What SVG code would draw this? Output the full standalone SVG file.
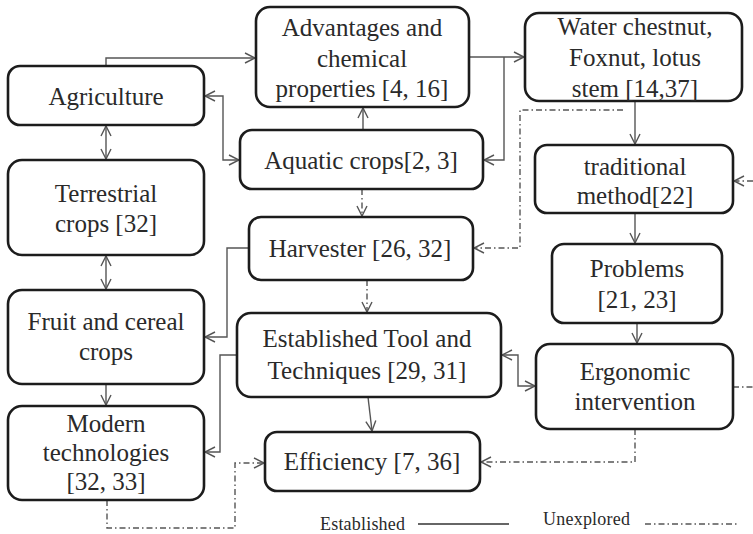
<svg xmlns="http://www.w3.org/2000/svg" width="753" height="534" viewBox="0 0 753 534">
<style>
.box{fill:#fff;stroke:#1c1c1c;stroke-width:2.6}
.t{font-family:'Liberation Serif',Tinos,'Times New Roman',Times,'DejaVu Serif',serif;font-size:25px;fill:#2a2a2a;text-anchor:middle}
.lg{font-family:'Liberation Serif',Tinos,'Times New Roman',Times,'DejaVu Serif',serif;font-size:18px;fill:#2a2a2a}
.c{fill:none;stroke:#555;stroke-width:1.4}
.d{fill:none;stroke:#555;stroke-width:1.4;stroke-dasharray:6,3,1.5,3}
</style>
<defs>
<marker id="a" markerUnits="userSpaceOnUse" markerWidth="12" markerHeight="12" viewBox="0 0 12 12" refX="11" refY="6" orient="auto-start-reverse">
<path d="M1,1 L11,6 L1,11" fill="none" stroke="#555" stroke-width="1.4"/>
</marker>
</defs>
<rect width="753" height="534" fill="#fff"/>
<g id="connectors">
<path class="c" d="M106,66 V58 H255" marker-end="url(#a)"/>
<path class="c" d="M205,96 H223 V160 H239" marker-start="url(#a)" marker-end="url(#a)"/>
<path class="c" d="M363,130 V108" marker-end="url(#a)"/>
<path class="c" d="M469,57 H524" marker-end="url(#a)"/>
<path class="c" d="M504,57 V160 H484" marker-end="url(#a)"/>
<path class="c" d="M635,101 V144" marker-end="url(#a)"/>
<path class="c" d="M635,213 V243" marker-end="url(#a)"/>
<path class="c" d="M637,323 V343" marker-end="url(#a)"/>
<path class="d" d="M753,181 H734" marker-end="url(#a)"/>
<path class="d" d="M733,387 H753"/>
<path class="d" d="M635,429 V462 H481" marker-end="url(#a)"/>
<path class="c" d="M502,355 H518 V386 H535" marker-start="url(#a)" marker-end="url(#a)"/>
<path class="c" d="M368,397 L372,431" marker-end="url(#a)"/>
<path class="d" d="M362,189 V216" marker-end="url(#a)"/>
<path class="d" d="M367,280 V312" marker-end="url(#a)"/>
<path class="d" d="M623,110 H520 V248 H474" marker-end="url(#a)"/>
<path class="c" d="M249,248 H227 V337 H205" marker-end="url(#a)"/>
<path class="c" d="M237,355 H220 V452 H205" marker-end="url(#a)"/>
<path class="c" d="M106,126 V159" marker-start="url(#a)" marker-end="url(#a)"/>
<path class="c" d="M106,256 V289" marker-start="url(#a)" marker-end="url(#a)"/>
<path class="c" d="M106,384 V405" marker-end="url(#a)"/>
<path class="d" d="M107,500 V528 H235 V463 H264" marker-end="url(#a)"/>
</g>
<g id="agriculture"><rect class="box" x="8" y="66" width="196" height="59" rx="12"/><text class="t" x="106" y="105">Agriculture</text></g>
<g id="advantages"><rect class="box" x="256" y="7" width="213" height="100" rx="14"/>
<text class="t" x="362" y="36">Advantages and</text><text class="t" x="362" y="67">chemical</text><text class="t" x="362" y="97">properties [4, 16]</text></g>
<g id="aquatic"><rect class="box" x="240" y="130" width="243" height="59" rx="12"/><text class="t" x="361" y="169">Aquatic crops[2, 3]</text></g>
<g id="water"><rect class="box" x="525" y="13" width="217" height="88" rx="14"/>
<text class="t" x="635" y="35">Water chestnut,</text><text class="t" x="635" y="66">Foxnut, lotus</text><text class="t" x="635" y="97">stem [14,37]</text></g>
<g id="traditional"><rect class="box" x="535" y="145" width="198" height="68" rx="12"/>
<text class="t" x="635" y="175">traditional</text><text class="t" x="635" y="204">method[22]</text></g>
<g id="problems"><rect class="box" x="552" y="244" width="170" height="79" rx="12"/>
<text class="t" x="637" y="277">Problems</text><text class="t" x="637" y="308">[21, 23]</text></g>
<g id="ergonomic"><rect class="box" x="536" y="344" width="197" height="85" rx="14"/>
<text class="t" x="635" y="380">Ergonomic</text><text class="t" x="635" y="410">intervention</text></g>
<g id="harvester"><rect class="box" x="249" y="217" width="224" height="63" rx="12"/><text class="t" x="360" y="257">Harvester [26, 32]</text></g>
<g id="established"><rect class="box" x="237" y="313" width="264" height="84" rx="14"/>
<text class="t" x="367" y="347">Established Tool and</text><text class="t" x="367" y="379">Techniques [29, 31]</text></g>
<g id="efficiency"><rect class="box" x="265" y="432" width="215" height="59" rx="12"/><text class="t" x="372" y="470">Efficiency [7, 36]</text></g>
<g id="terrestrial"><rect class="box" x="8" y="160" width="196" height="95" rx="14"/>
<text class="t" x="106" y="202">Terrestrial</text><text class="t" x="106" y="232">crops [32]</text></g>
<g id="fruit"><rect class="box" x="8" y="290" width="196" height="94" rx="14"/>
<text class="t" x="106" y="330">Fruit and cereal</text><text class="t" x="106" y="360">crops</text></g>
<g id="modern"><rect class="box" x="8" y="406" width="196" height="94" rx="14"/>
<text class="t" x="106" y="432">Modern</text><text class="t" x="106" y="461">technologies</text><text class="t" x="106" y="490">[32, 33]</text></g>
<g id="legend">
<text class="lg" x="320" y="530" textLength="85">Established</text>
<line x1="418" y1="524" x2="509" y2="524" stroke="#333" stroke-width="1.4"/>
<text class="lg" x="543" y="525" textLength="87">Unexplored</text>
<line x1="645" y1="524" x2="737" y2="524" stroke="#555" stroke-width="1.4" stroke-dasharray="6,3,1.5,3"/>
</g>
</svg>
